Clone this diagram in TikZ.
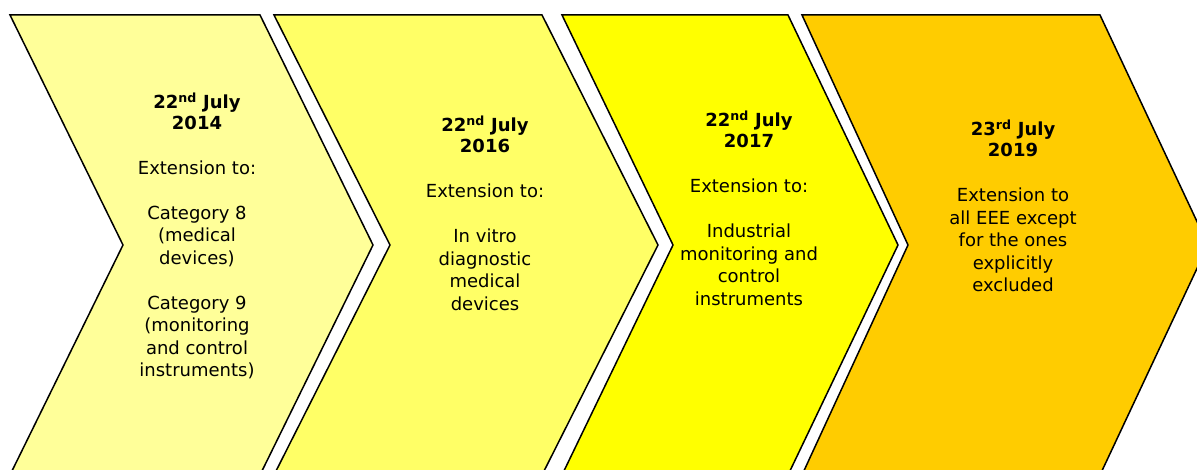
\documentclass[tikz,border=0pt]{standalone}
\usepackage{fontspec}
\setmainfont{DejaVu Sans}
\definecolor{y1}{HTML}{FFFF99}
\definecolor{y2}{HTML}{FFFF66}
\definecolor{y3}{HTML}{FFFF00}
\definecolor{y4}{HTML}{FFCC00}
\tikzset{
chev/.style={draw=black, line width=1.5pt, line join=miter},
txt/.style={align=center, inner sep=0pt, font=\fontsize{18}{22.5}\selectfont}
}
\begin{document}
\begin{tikzpicture}[x=1pt,y=-1pt]
\clip (0,0) rectangle (1197,470);
\fill[white] (0,0) rectangle (1197,470);

\draw[chev, fill=y1] (10,15) -- (260,15) -- (373,245) -- (260,475) -- (10,475) -- (123,245) -- cycle;
\draw[chev, fill=y2] (274,15) -- (542,15) -- (658,245) -- (542,475) -- (274,475) -- (390,245) -- cycle;
\draw[chev, fill=y3] (562,15) -- (788,15) -- (898,245) -- (788,475) -- (562,475) -- (673,245) -- cycle;
\draw[chev, fill=y4] (802,15) -- (1100,15) -- (1208,245) -- (1100,475) -- (802,475) -- (908,245) -- cycle;

\node (0) at (197,236) [txt] {\textbf{22\textsuperscript{nd} July}\\[-1.5pt] \textbf{2014}\\[22.5pt]
Extension to:\\[22.5pt] Category 8\\ (medical\\ devices)\\[22.5pt] Category 9\\ (monitoring\\ and control\\ instruments)};
\node (1) at (485,213) [txt] {\textbf{22\textsuperscript{nd} July}\\[-1.5pt] \textbf{2016}\\[22.5pt]
Extension to:\\[22.5pt] In vitro\\ diagnostic\\ medical\\ devices};
\node (2) at (749,208) [txt] {\textbf{22\textsuperscript{nd} July}\\[-1.5pt] \textbf{2017}\\[22.5pt]
Extension to:\\[22.5pt] Industrial\\ monitoring and\\ control\\ instruments};
\node (3) at (1013,206) [txt] {\textbf{23\textsuperscript{rd} July}\\[-1.5pt] \textbf{2019}\\[22.5pt]
Extension to\\ all EEE except\\ for the ones\\ explicitly\\ excluded};
\end{tikzpicture}
\end{document}
